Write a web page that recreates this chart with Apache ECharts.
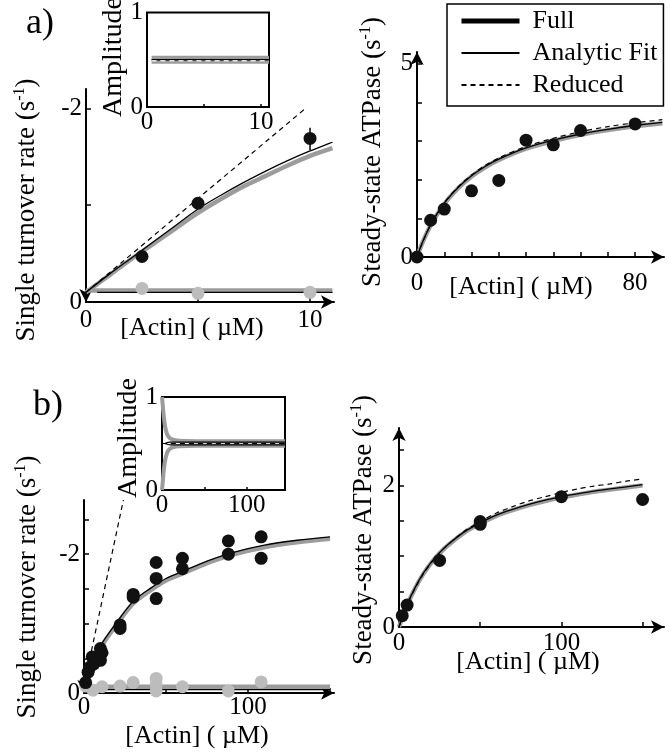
<!DOCTYPE html>
<html lang="en">
<head>
<meta charset="UTF-8">
<title>Single turnover and steady-state ATPase</title>
<script src="https://cdn.jsdelivr.net/npm/echarts@6/dist/echarts.min.js"></script>
<style>
  html, body { margin: 0; padding: 0; background: #fff; }
  #main { width: 670px; height: 755px; }
</style>
</head>
<body>
<div id="main"></div>
<script>
// ---------- data ----------
// a) single turnover, rates are negative (axis labelled 0 .. -2)
const aStX = [2.5, 5, 10];
const aStFast = [-0.47, -1.02, -1.69];
const aStSlow = [-0.14, -0.09, -0.10];
const aStErrX = [10, 10];
const aStErr = [-1.57, -1.80];
const aStCurveX = [0, 1, 2, 3, 4, 5, 6, 7, 8, 9, 10, 11];
const aStFit = [-0.1, -0.28, -0.45, -0.62, -0.79, -0.96, -1.1, -1.23, -1.35, -1.46, -1.56, -1.65];
const aStFull = [-0.1, -0.27, -0.44, -0.6, -0.76, -0.92, -1.06, -1.19, -1.3, -1.41, -1.51, -1.59];
const aStRedX = [0, 9.8];
const aStRed = [-0.1, -2.0];
const aStSlowFitX = [0.5, 11];
const aStSlowFit = [-0.1, -0.1];
const aStSlowFullX = [0, 11];
const aStSlowFull = [-0.12, -0.12];

// a) inset amplitudes
const aAmpX = [0.4, 10.7];
const aAmpFull = [0.5, 0.5];
const aAmpFit = [0.5, 0.5];
const aAmpRed = [0.49, 0.49];

// a) steady-state ATPase
const aSsX = [0, 5, 10, 20, 30, 40, 50, 60, 80];
const aSsY = [0, 0.95, 1.24, 1.71, 1.98, 3.02, 2.9, 3.27, 3.44];
const aSsCurveX = [0, 2, 5, 10, 15, 20, 25, 30, 40, 50, 60, 70, 80, 90];
const aSsFit = [0, 0.38, 0.83, 1.39, 1.79, 2.1, 2.34, 2.53, 2.82, 3.02, 3.18, 3.3, 3.4, 3.48];
const aSsFull = [0, 0.37, 0.82, 1.37, 1.77, 2.08, 2.32, 2.51, 2.8, 3.0, 3.16, 3.28, 3.38, 3.46];
const aSsRed = [0, 0.37, 0.83, 1.4, 1.81, 2.12, 2.37, 2.56, 2.86, 3.07, 3.24, 3.37, 3.47, 3.55];

// b) single turnover
const bStFastX = [1, 2.5, 3.5, 5, 6, 10, 10, 11, 22, 22, 30, 30, 44, 44, 44, 60, 60, 88, 88, 108, 108];
const bStFast = [-0.15, -0.3, -0.37, -0.52, -0.42, -0.64, -0.47, -0.58, -0.98, -0.93, -1.42, -1.38,
                 -1.88, -1.65, -1.36, -1.94, -1.79, -2.19, -2.0, -2.25, -1.94];
const bStSlowX = [1, 5.5, 11, 22, 30, 44, 44, 44, 60, 88, 108];
const bStSlow = [-0.1, -0.04, -0.09, -0.1, -0.15, -0.21, -0.12, -0.03, -0.09, -0.03, -0.16];
const bStCurveX = [0, 5, 10, 20, 30, 40, 50, 60, 75, 90, 110, 130, 150];
const bStFit = [-0.1, -0.42, -0.68, -1.02, -1.32, -1.5, -1.65, -1.75, -1.9, -2.02, -2.13, -2.2, -2.25];
const bStFull = [-0.1, -0.4, -0.65, -0.99, -1.29, -1.47, -1.62, -1.72, -1.87, -1.99, -2.1, -2.17, -2.22];
const bStRedX = [0, 24];
const bStRed = [-0.1, -2.78];
const bStFlatX = [0, 150];
const bStSlowFit = [-0.05, -0.05];
const bStSlowFull = [-0.09, -0.09];

// b) inset amplitudes
const bAmpX = [0, 1, 2, 3.5, 6, 9, 13, 20, 40, 145];
const bAmpUp = [1, 0.9, 0.8, 0.69, 0.6, 0.56, 0.54, 0.53, 0.525, 0.525];
const bAmpDown = [0, 0.1, 0.2, 0.31, 0.4, 0.44, 0.46, 0.47, 0.475, 0.475];
const bAmpFitX = [3, 10, 145];
const bAmpFitUp = [0.5, 0.515, 0.515];
const bAmpFitDown = [0.5, 0.485, 0.485];
const bAmpRedX = [0, 145];
const bAmpRed = [0.5, 0.5];

// b) steady-state ATPase
const bSsX = [2, 5, 25, 50, 50, 100, 150];
const bSsY = [0.16, 0.31, 0.94, 1.49, 1.45, 1.84, 1.8];
const bSsCurveX = [0, 2, 5, 10, 15, 20, 25, 30, 40, 50, 60, 70, 80, 90, 100, 110, 120, 130, 140, 150];
const bSsFit = [0, 0.14, 0.32, 0.56, 0.76, 0.92, 1.05, 1.16, 1.34, 1.47, 1.58, 1.66, 1.73, 1.79, 1.84, 1.88, 1.92, 1.95, 1.98, 2.01];
const bSsFull = [0, 0.13, 0.31, 0.55, 0.75, 0.91, 1.04, 1.15, 1.33, 1.46, 1.57, 1.65, 1.72, 1.78, 1.83, 1.87, 1.91, 1.94, 1.97, 2.0];
const bSsRed = [0, 0.13, 0.31, 0.55, 0.75, 0.91, 1.05, 1.16, 1.35, 1.49, 1.61, 1.7, 1.78, 1.84, 1.9, 1.95, 1.99, 2.02, 2.06, 2.09];

// ---------- chart ----------
const FONT = '"Liberation Serif", "Times New Roman", serif';
const GRAY = '#9c9c9c';
const DOT_GRAY = '#bcbcbc';
const pts = (xs, ys) => xs.map((x, i) => [x, ys[i]]);

const FULL = { color: GRAY, width: 4.5 };
const FIT = { color: '#000', width: 1.3 };
const RED = { color: '#000', width: 1.2, type: [5, 4] };

function curve(g, xs, ys, style, name) {
    let s = {
        type: 'line', xAxisIndex: g, yAxisIndex: g,
        data: pts(xs, ys), symbol: 'none', smooth: 0.3,
        lineStyle: style, itemStyle: { color: style.color },
        silent: true, z: 2, animation: false
    };
    if (name) s.name = name;
    return s;
}
function dots(g, xs, ys, color) {
    return {
        type: 'scatter', xAxisIndex: g, yAxisIndex: g,
        data: pts(xs, ys), symbolSize: 13,
        itemStyle: { color: color, opacity: 1 },
        silent: true, z: 3, animation: false
    };
}

// main axes with arrows
function xMain(g, max, ticks, labels, margin) {
    return {
        type: 'value', gridIndex: g, min: 0, max: max,
        axisLine: { show: true, onZero: false, lineStyle: { color: '#000', width: 2 },
            symbol: ['none', 'arrow'], symbolSize: [10, 13] },
        axisTick: { show: true, inside: true, length: 5, lineStyle: { color: '#000', width: 1.5 }, customValues: ticks },
        axisLabel: { customValues: labels, color: '#000', fontFamily: FONT, fontSize: 25, margin: margin },
        splitLine: { show: false }
    };
}
function yMain(g, min, max, inverse, ticks, labels) {
    return {
        type: 'value', gridIndex: g, min: min, max: max, inverse: inverse,
        axisLine: { show: true, onZero: false, lineStyle: { color: '#000', width: 2 },
            symbol: inverse ? ['arrow', 'none'] : ['none', 'arrow'], symbolSize: [10, 13] },
        axisTick: { show: true, inside: true, length: 5, lineStyle: { color: '#000', width: 1.5 }, customValues: ticks },
        axisLabel: { customValues: labels, color: '#000', fontFamily: FONT, fontSize: 25, margin: 4 },
        splitLine: { show: false }
    };
}
// inset axes (boxed)
function xInset(g, max, ticks, labels) {
    return {
        type: 'value', gridIndex: g, min: 0, max: max,
        axisLine: { show: false },
        axisTick: { show: true, inside: true, length: 3, lineStyle: { color: '#000', width: 1.5 }, customValues: ticks },
        axisLabel: { customValues: labels, color: '#000', fontFamily: FONT, fontSize: 25, margin: 3 },
        splitLine: { show: false }
    };
}
function yInset(g) {
    return {
        type: 'value', gridIndex: g, min: 0, max: 1,
        axisLine: { show: false }, axisTick: { show: false },
        axisLabel: { customValues: [0, 1], color: '#000', fontFamily: FONT, fontSize: 25, margin: 4 },
        splitLine: { show: false }
    };
}

const titleRich = {
    t: { fontFamily: FONT, fontSize: 27, color: '#000' },
    s: { fontFamily: FONT, fontSize: 16, color: '#000', padding: [0, 0, 14, 0] }
};
function yTitle(cx, cy, text) {
    return {
        type: 'text', x: cx, y: cy, rotation: Math.PI / 2, silent: true,
        style: { text: '{t|' + text + ' (s}{s|-1}{t|)}', rich: titleRich, align: 'center', verticalAlign: 'middle' }
    };
}
function plainText(cx, cy, text, size, rot) {
    return {
        type: 'text', x: cx, y: cy, rotation: rot || 0, silent: true,
        style: { text: text, fontFamily: FONT, fontSize: size, fill: '#000', align: 'center', verticalAlign: 'middle' }
    };
}

let myChart = echarts.init(document.getElementById('main'), null, { renderer: 'canvas' });

let option = {
    backgroundColor: '#fff',
    animation: false,
    grid: [
        { left: 86, top: 89, width: 248, height: 213 },                                   // a) turnover
        { left: 147, top: 10, width: 122, height: 97, show: true, borderColor: '#000', borderWidth: 2 }, // a) inset
        { left: 417, top: 52, width: 247, height: 205 },                                  // a) ATPase
        { left: 84, top: 500, width: 250, height: 193 },                                  // b) turnover
        { left: 162, top: 397, width: 123, height: 93, show: true, borderColor: '#000', borderWidth: 2 }, // b) inset
        { left: 399, top: 428, width: 265, height: 199 }                                  // b) ATPase
    ],
    xAxis: [
        xMain(0, 11.07, [5, 10], [0, 10], 6),
        xInset(1, 10.7, [5, 10], [0, 10]),
        xMain(2, 90.6, [10, 20, 30, 40, 50, 60, 70, 80], [0, 80], 14),
        xMain(3, 152.4, [50, 100, 150], [0, 100], 2),
        xInset(4, 145, [50, 100], [0, 100]),
        xMain(5, 163.2, [50, 100, 150], [0, 100], 4)
    ],
    yAxis: [
        yMain(0, -2.2, 0, true, [-1, -2], [0, -2]),
        yInset(1),
        yMain(2, 0, 5.3, false, [1, 2, 3, 4, 5], [0, 5]),
        yMain(3, -2.78, 0, true, [-0.5, -1, -1.5, -2, -2.5], [0, -2]),
        yInset(4),
        yMain(5, 0, 2.81, false, [0.5, 1, 1.5, 2, 2.5], [0, 2])
    ],
    legend: {
        orient: 'vertical', left: 447, top: 4,
        data: [
            { name: 'Full', lineStyle: { color: '#000', width: 5 } },
            { name: 'Analytic Fit' },
            { name: 'Reduced' }
        ],
        itemStyle: { opacity: 0 },
        itemWidth: 58, itemHeight: 14, itemGap: 6,
        borderColor: '#000', borderWidth: 1.5, padding: [4, 6, 8, 12],
        textStyle: { fontFamily: FONT, fontSize: 26, color: '#000', padding: [0, 0, 0, 8] },
        selectedMode: false
    },
    series: [
        // a) ATPase (named: feeds the legend)
        curve(2, aSsCurveX, aSsFull, FULL, 'Full'),
        curve(2, aSsCurveX, aSsFit, FIT, 'Analytic Fit'),
        curve(2, aSsCurveX, aSsRed, RED, 'Reduced'),
        dots(2, aSsX, aSsY, '#111'),

        // a) turnover
        curve(0, aStSlowFullX, aStSlowFull, FULL),
        curve(0, aStSlowFitX, aStSlowFit, FIT),
        curve(0, aStCurveX, aStFull, FULL),
        curve(0, aStCurveX, aStFit, FIT),
        curve(0, aStRedX, aStRed, RED),
        curve(0, aStErrX, aStErr, { color: '#000', width: 1.5 }),
        dots(0, aStX, aStSlow, DOT_GRAY),
        dots(0, aStX, aStFast, '#111'),

        // a) inset
        curve(1, aAmpX, aAmpFull, { color: GRAY, width: 8 }),
        curve(1, aAmpX, aAmpFit, { color: '#000', width: 1.5 }),
        curve(1, aAmpX, aAmpRed, { color: '#e6e6e6', width: 1.5, type: [5, 4] }),

        // b) turnover
        curve(3, bStFlatX, bStSlowFull, FULL),
        curve(3, bStFlatX, bStSlowFit, FIT),
        curve(3, bStCurveX, bStFull, FULL),
        curve(3, bStCurveX, bStFit, FIT),
        curve(3, bStRedX, bStRed, RED),
        dots(3, bStSlowX, bStSlow, DOT_GRAY),
        dots(3, bStFastX, bStFast, '#111'),

        // b) inset
        curve(4, bAmpX, bAmpUp, { color: GRAY, width: 4 }),
        curve(4, bAmpX, bAmpDown, { color: GRAY, width: 4 }),
        curve(4, bAmpFitX, bAmpFitUp, { color: '#000', width: 1.2 }),
        curve(4, bAmpFitX, bAmpFitDown, { color: '#000', width: 1.2 }),
        curve(4, bAmpRedX, bAmpRed, { color: '#000', width: 1.2, type: [5, 4] }),

        // b) ATPase
        curve(5, bSsCurveX, bSsFull, FULL),
        curve(5, bSsCurveX, bSsFit, FIT),
        curve(5, bSsCurveX, bSsRed, RED),
        dots(5, bSsX, bSsY, '#111')
    ],
    graphic: [
        plainText(40, 24, 'a)', 36),
        plainText(48, 406, 'b)', 36),
        yTitle(27, 210, 'Single turnover rate'),
        yTitle(373, 152, 'Steady-state ATPase'),
        yTitle(28, 587, 'Single turnover rate'),
        yTitle(364, 530, 'Steady-state ATPase'),
        plainText(114, 57, 'Amplitude', 28, Math.PI / 2),
        plainText(129, 438, 'Amplitude', 28, Math.PI / 2),
        plainText(192, 328, '[Actin] ( \u00b5M)', 26),
        plainText(521, 287, '[Actin] ( \u00b5M)', 26),
        plainText(197, 736, '[Actin] ( \u00b5M)', 26),
        plainText(528, 662, '[Actin] ( \u00b5M)', 26)
    ]
};

myChart.setOption(option);
</script>
</body>
</html>
